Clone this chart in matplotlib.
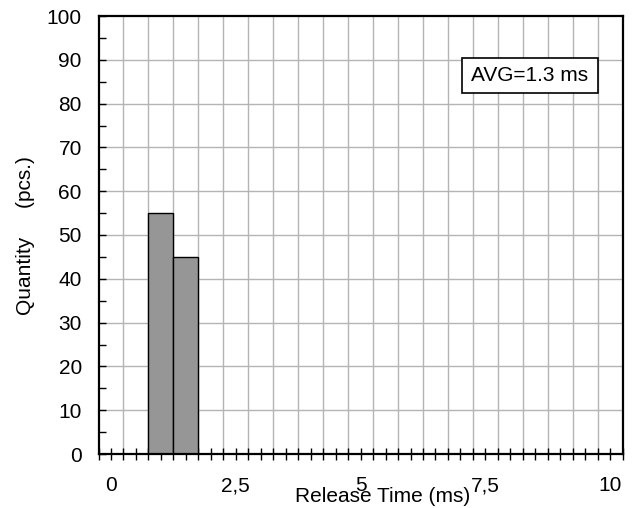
import matplotlib
matplotlib.use("Agg")
import matplotlib.pyplot as plt
import numpy as np
from matplotlib.ticker import MultipleLocator, FixedLocator
from matplotlib.patches import Rectangle

# Data
bin_centers = [1.0, 1.5]
quantities = [55, 45]
bin_width = 0.5
x_tick_values = [0, 2.5, 5, 7.5, 10]
x_tick_labels = ["0", "2,5", "5", "7,5", "10"]
y_tick_values = [0, 10, 20, 30, 40, 50, 60, 70, 80, 90, 100]
avg_text = "AVG=1.3 ms"

plt.rcParams['font.family'] = ['Liberation Sans', 'DejaVu Sans']
FS = 15

fig = plt.figure(figsize=(6.38, 5.08), dpi=100)
W, H = 638, 508
left, right, top, bottom = 98.5, 622.7, 16, 454
ax = fig.add_axes([left / W, 1 - bottom / H, (right - left) / W, (bottom - top) / H])

ax.set_xlim(-0.25, 10.25)
ax.set_ylim(0, 100)

# grid
for xv in np.arange(0.25, 10.25, 0.5):
    ax.axvline(xv, color='#b4b4b4', lw=1.0, zorder=1)
for yv in y_tick_values[1:-1]:
    ax.axhline(yv, color='#b4b4b4', lw=1.0, zorder=1)

ax.bar(bin_centers, quantities, width=bin_width, color='#969696',
       edgecolor='black', linewidth=1.0, zorder=3)

for s in ax.spines.values():
    s.set_linewidth(1.6)
    s.set_color('black')
    s.set_zorder(5)

ax.xaxis.set_major_locator(FixedLocator(x_tick_values))
ax.set_xticklabels(x_tick_labels)
ax.xaxis.set_minor_locator(MultipleLocator(0.25))
ax.tick_params(axis='x', which='both', direction='inout', length=8, width=1.0,
               labelsize=FS, pad=12.0, top=False)
ax.set_yticks(y_tick_values)
ax.yaxis.set_minor_locator(MultipleLocator(5))
ax.tick_params(axis='y', which='both', direction='in', length=5, width=1.0,
               labelsize=FS, pad=12.0, right=False)

fig.text(295 / W, 1 - 501.5 / H, "Release Time (ms)", ha='left', va='baseline', fontsize=FS)
fig.text(26 / W, 1 - 236 / H, "Quantity     (pcs.)", ha='center', va='center',
         rotation=90, fontsize=FS)

bx0, bx1, by0, by1 = 461.7, 598, 58, 92.7
fig.patches.append(Rectangle((bx0 / W, 1 - by1 / H), (bx1 - bx0) / W, (by1 - by0) / H,
                             transform=fig.transFigure, facecolor='white',
                             edgecolor='black', linewidth=1.2, zorder=10))
fig.text((bx0 + bx1) / 2 / W, 1 - (by0 + by1) / 2 / H, avg_text, ha='center', va='center',
         fontsize=FS, zorder=11)

fig.savefig("out.png", dpi=100)
